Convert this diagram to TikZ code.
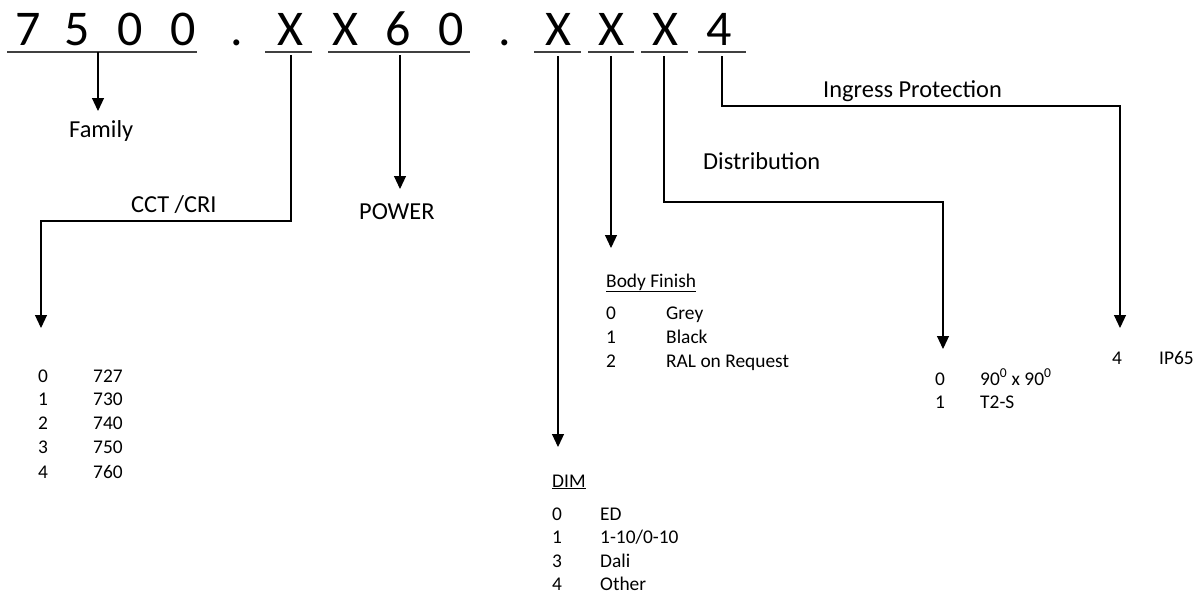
\documentclass[tikz,border=0pt]{standalone}
\usepackage{fontspec}
\setmainfont{Carlito}
\usetikzlibrary{arrows.meta}
\begin{document}
\begin{tikzpicture}[x=1pt,y=-1pt,
  conn/.style={line width=1.1pt, -{Triangle[width=12pt,length=13pt]}},
  ul/.style={line width=1.3pt, draw=black!75},
  big/.style={inner sep=0pt, anchor=base, font=\fontsize{50}{60}\selectfont},
  mid/.style={inner sep=0pt, anchor=base west, font=\fontsize{24.4}{28}\selectfont},
  sm/.style={inner sep=0pt, anchor=base west, font=\fontsize{19.4}{22}\selectfont}]
\useasboundingbox (0,0) rectangle (1198,595);

% code characters
\foreach \c/\x/\n in {7/28/c1,5/77/c2,0/130/c3,0/183/c4,./237/c5,X/290/c6,X/345/c7,6/398/c8,0/451/c9,./505/c10,X/558/c11,X/611/c12,X/665/c13,4/719/c14}
  \node[big] (\n) at (\x,45) {\c};

% underlines
\draw[ul] (7,52) -- (197,52);
\draw[ul] (265,52) -- (312,52);
\draw[ul] (328,52) -- (470,52);
\draw[ul] (534,52) -- (581,52);
\draw[ul] (588,52) -- (634,52);
\draw[ul] (641,52) -- (688,52);
\draw[ul] (698,52) -- (746,52);

% coordinates for connectors
\coordinate (famS) at (98,52);   \coordinate (famE) at (98,111);
\coordinate (cctS) at (291,55);  \coordinate (cctA) at (291,221);
\coordinate (cctB) at (41,221);  \coordinate (cctE) at (41,328);
\coordinate (powS) at (400,55);  \coordinate (powE) at (400,189);
\coordinate (dimS) at (558,56);  \coordinate (dimE) at (558,447);
\coordinate (bodS) at (611,56);  \coordinate (bodE) at (611,248);
\coordinate (disS) at (664,56);  \coordinate (disA) at (664,202);
\coordinate (disB) at (943,202); \coordinate (disE) at (943,349);
\coordinate (ipS) at (722,56);   \coordinate (ipA) at (722,106);
\coordinate (ipB) at (1120,106); \coordinate (ipE) at (1120,328);

% connectors
\draw[conn] (famS) -- (famE);
\draw[conn] (cctS) -- (cctA) -- (cctB) -- (cctE);
\draw[conn] (powS) -- (powE);
\draw[conn] (dimS) -- (dimE);
\draw[conn] (bodS) -- (bodE);
\draw[conn] (disS) -- (disA) -- (disB) -- (disE);
\draw[conn] (ipS) -- (ipA) -- (ipB) -- (ipE);

% headings
\node[mid] (family) at (69,137) {Family};
\node[mid] (cct) at (131,212) {CCT /CRI};
\node[mid] (power) at (359,219) {POWER};
\node[mid] (distr) at (703,169) {Distribution};
\node[mid] (ingress) at (823,97) {Ingress Protection};
\node[sm] (body) at (606,287) {\underline{Body Finish}};
\node[sm] (dim) at (552,487) {\underline{DIM}};

% CCT rows
\foreach \k/\v/\y/\n in {0/727/382/a,1/730/405/b,2/740/429/c,3/750/453/d,4/760/478/e}{
  \node[sm] (cctk\n) at (38,\y) {\k};
  \node[sm] (cctv\n) at (93,\y) {\v};
}
% Body finish rows
\foreach \k/\v/\y/\n in {0/Grey/319/a,1/Black/343/b,2/RAL on Request/367/c}{
  \node[sm] (bodk\n) at (606,\y) {\k};
  \node[sm] (bodv\n) at (666,\y) {\v};
}
% DIM rows
\foreach \k/\v/\y/\n in {0/ED/520/a,1/1-10\slash 0-10/543/b,3/Dali/567/c,4/Other/590/d}{
  \node[sm] (dimk\n) at (552,\y) {\k};
  \node[sm] (dimv\n) at (600,\y) {\v};
}
% Distribution rows
\node[sm] (disk1) at (935,385) {0};
\node[sm] (disv1) at (980,385) {90\textsuperscript{0} x 90\textsuperscript{0}};
\node[sm] (disk2) at (935,408) {1};
\node[sm] (disv2) at (980,408) {T2-S};
% IP row
\node[sm] (ipk) at (1112,364) {4};
\node[sm] (ipv) at (1159,364) {IP65};
\end{tikzpicture}
\end{document}
